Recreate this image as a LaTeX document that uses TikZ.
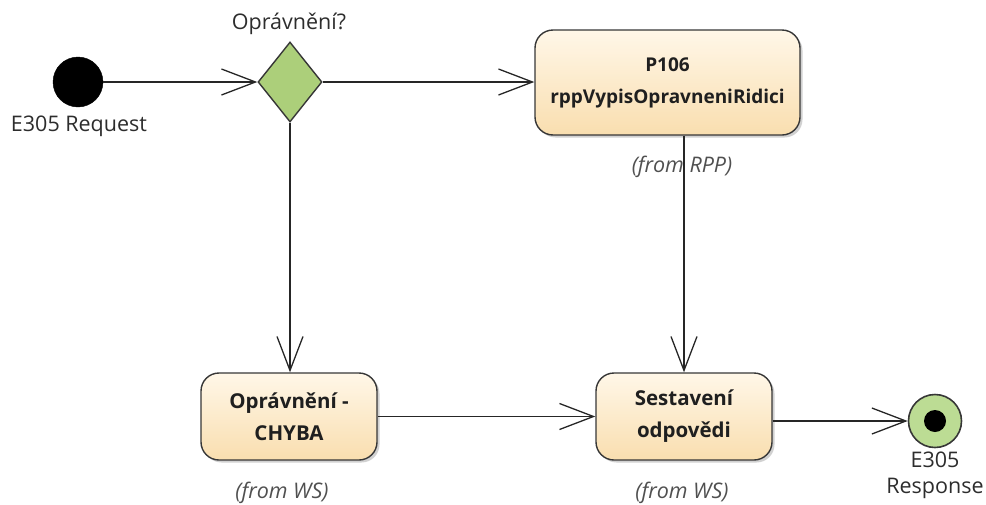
\documentclass[tikz,border=0pt]{standalone}
\usepackage{fontspec}
\setmainfont{Open Sans}
\usetikzlibrary{shapes.geometric,arrows.meta,shadows}
\definecolor{boxline}{RGB}{55,55,55}
\definecolor{boxtop}{RGB}{255,247,232}
\definecolor{boxbot}{RGB}{249,222,175}
\definecolor{gatefill}{RGB}{172,207,122}
\definecolor{endfill}{RGB}{188,220,148}
\definecolor{labtext}{RGB}{45,45,45}
\definecolor{fromtext}{RGB}{80,80,80}
\tikzset{
  actbox/.style={rectangle, rounded corners=18pt, draw=boxline, line width=1.4pt,
    top color=boxtop, bottom color=boxbot, align=center, inner sep=0pt,
    font=\fontsize{20.5}{32}\selectfont\bfseries, text=black!88,
    drop shadow={shadow xshift=2.5pt, shadow yshift=-2.5pt, opacity=0.3, fill=black!60}},
  gate/.style={diamond, draw=boxline, line width=1.4pt, fill=gatefill, inner sep=0pt,
    minimum width=64pt, minimum height=80pt},
  startnode/.style={circle, fill=black, draw=black, minimum size=50pt, inner sep=0pt},
  endnode/.style={circle, fill=endfill, draw=boxline, line width=1.6pt, minimum size=53pt, inner sep=0pt},
  enddot/.style={circle, fill=black, minimum size=22pt, inner sep=0pt},
  flow/.style={draw=black!85, line width=1.3pt, -{Straight Barb[length=34pt, width=26pt, line width=1.3pt]}},
  lab/.style={font=\fontsize{21.5}{38}\selectfont, text=labtext, align=center, inner sep=0pt},
  fromlab/.style={font=\fontsize{21.5}{30}\selectfont\itshape, text=fromtext, inner sep=0pt}
}
\begin{document}
\begin{tikzpicture}[x=1pt,y=-1pt]
\useasboundingbox (0,0) rectangle (986,504);
\node[startnode] (start) at (78,82) {};
\node[lab] (startlab) at (79,126) {E305 Request};
\node[gate] (gate) at (290,82) {};
\node[lab] (gatelab) at (289,24) {Oprávnění?};
\node[actbox, minimum width=265pt, minimum height=105pt, font=\fontsize{19}{32}\selectfont\bfseries] (p106) at (667.5,82.5) {P106\\rppVypisOpravneniRidici};
\node[actbox, minimum width=176pt, minimum height=87pt] (chyba) at (289,416.5) {Oprávnění -\\CHYBA};
\node[actbox, minimum width=176pt, minimum height=87pt] (sest) at (684,416.5) {Sestavení\\odpovědi};
\node[endnode] (end) at (935,421) {};
\node[enddot] (enddot) at (end.center) {};
\node[lab, anchor=base] (endlab1) at (935,467) {E305};
\node[lab, anchor=base] (endlab2) at (935,493) {Response};
% connectors
\draw[flow] (start) -- (gate.west);
\draw[flow] (gate.east) -- (p106.west |- gate.east);
\draw[flow] (gate.south) -- (chyba.north -| gate.south);
\draw[flow] (p106.south -| sest.north) -- (sest.north);
\draw[flow] (chyba.east) -- (sest.west);
\draw[flow] (sest.east |- end.west) -- (end.west);
% from labels
\node[fromlab] (fromrpp) at (682,167) {(from RPP)};
\node[fromlab] (fromws1) at (282,493) {(from WS)};
\node[fromlab] (fromws2) at (682,493) {(from WS)};
\end{tikzpicture}
\end{document}
